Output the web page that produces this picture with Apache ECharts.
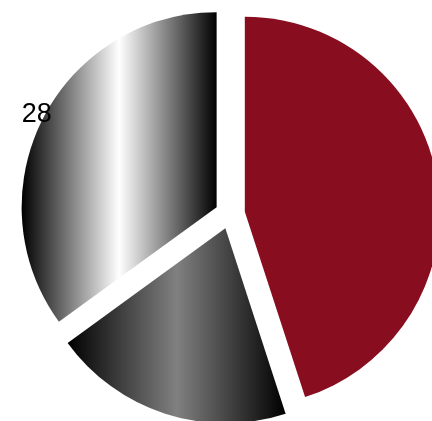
<!DOCTYPE html>
<html>
<head>
<meta charset="utf-8">
<style>
html,body{margin:0;padding:0;background:#fff;}
#chart{width:432px;height:421px;}
</style>
<script src="https://cdn.jsdelivr.net/npm/echarts@6/dist/echarts.min.js"></script>
</head>
<body>
<div id="chart"></div>
<script>
var categories = ['A', 'B', 'C'];
var values = [36, 16, 28];
var showLabel = [false, false, true];

var fills = [
  '#880E1F',
  {type: 'linear', x: 0, y: 0, x2: 1, y2: 0, colorStops: [
    {offset: 0, color: '#000000'}, {offset: 0.5, color: '#808080'}, {offset: 1, color: '#000000'}]},
  {type: 'linear', x: 0, y: 0, x2: 1, y2: 0, colorStops: [
    {offset: 0, color: '#000000'}, {offset: 0.5, color: '#ffffff'}, {offset: 1, color: '#000000'}]}
];

var data = categories.map(function (c, i) {
  return {
    name: c,
    value: values[i],
    selected: true,
    itemStyle: {color: fills[i]},
    label: {show: showLabel[i]}
  };
});

var chart = echarts.init(document.getElementById('chart'), null, {renderer: 'canvas'});
chart.setOption({
  animation: false,
  series: [{
    type: 'pie',
    center: [230, 214],
    radius: [0, 195],
    startAngle: 90,
    clockwise: true,
    selectedMode: 'multiple',
    selectedOffset: 15,
    avoidLabelOverlap: false,
    label: {
      position: 'outside',
      formatter: '{c}',
      color: '#000',
      fontSize: 27,
      fontFamily: 'Liberation Sans, Arial, sans-serif'
    },
    labelLine: {show: false, length: 0, length2: 0},
    labelLayout: {dx: 14, dy: -4},
    emphasis: {disabled: true},
    data: data
  }]
});
</script>
</body>
</html>
